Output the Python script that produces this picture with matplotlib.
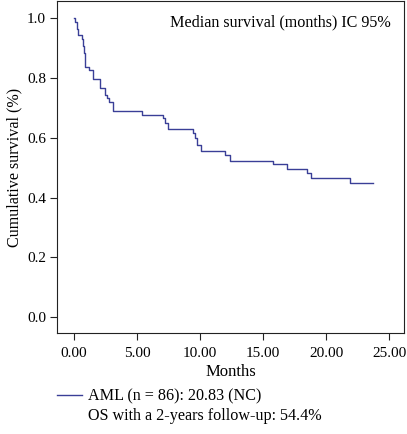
import matplotlib
matplotlib.use("Agg")
import matplotlib.pyplot as plt
from matplotlib.lines import Line2D

# Kaplan-Meier step data (months, cumulative survival)
times = [0.0, 0.1, 0.2, 0.3, 0.6, 0.7, 0.8, 0.87, 1.22, 1.48, 2.1, 2.46, 2.6, 2.8,
         3.12, 5.42, 7.09, 7.2, 7.48, 9.42, 9.6, 9.74, 10.06, 11.98, 12.38, 15.77,
         16.88, 18.5, 18.78, 21.9, 23.7]
survival = [1.0, 0.988, 0.965, 0.942, 0.93, 0.907, 0.884, 0.837, 0.826, 0.795, 0.767,
            0.744, 0.733, 0.72, 0.69, 0.677, 0.665, 0.65, 0.628, 0.616, 0.60, 0.577,
            0.554, 0.541, 0.523, 0.511, 0.496, 0.483, 0.466, 0.449, 0.449]

x_ticks = [0, 5, 10, 15, 20, 25]
x_tick_labels = ["0.00", "5.00", "10.00", "15.00", "20.00", "25.00"]
y_ticks = [0.0, 0.2, 0.4, 0.6, 0.8, 1.0]
y_tick_labels = ["0.0", "0.2", "0.4", "0.6", "0.8", "1.0"]

legend_line1 = "AML (n = 86): 20.83 (NC)"
legend_line2 = "OS with a 2-years follow-up: 54.4%"
header = "Median survival (months) IC 95%"

plt.rcParams['font.family'] = ['Liberation Serif', 'DejaVu Serif']
fs_tick = 11
fs_text = 11.6
line_color = '#3a3f97'
spine_color = '#222222'

fig = plt.figure(figsize=(4.07, 4.34), dpi=100)
ax = fig.add_axes([57/407, 1 - 333/434, (404-57)/407, (333-1)/434])

ax.step(times, survival, where='post', color=line_color, lw=1.0)

ax.set_xlim(-1.35, 26.19)
ax.set_ylim(-0.053, 1.057)
ax.set_xticks(x_ticks)
ax.set_xticklabels(x_tick_labels, fontsize=fs_tick)
ax.set_yticks(y_ticks)
ax.set_yticklabels(y_tick_labels, fontsize=fs_tick)
ax.tick_params(direction='out', length=5, width=0.8, color=spine_color, pad=3)
ax.tick_params(axis='x', pad=5)
for s in ax.spines.values():
    s.set_color(spine_color)
    s.set_linewidth(0.8)

ax.set_xlabel("Months", fontsize=12, labelpad=3)
ax.set_ylabel("Cumulative survival (%)", fontsize=fs_text, labelpad=3)

ax.text(0.963, 0.937, header, transform=ax.transAxes, ha='right', va='center', fontsize=fs_text)

# legend below the axes
fig.add_artist(Line2D([57/407, 82/407], [1 - 395/434, 1 - 395/434], color=line_color, lw=1.0))
fig.text(88/407, 1 - 396/434, legend_line1, ha='left', va='center', fontsize=fs_text)
fig.text(88/407, 1 - 416/434, legend_line2, ha='left', va='center', fontsize=fs_text)

fig.savefig("out.png", dpi=100)
